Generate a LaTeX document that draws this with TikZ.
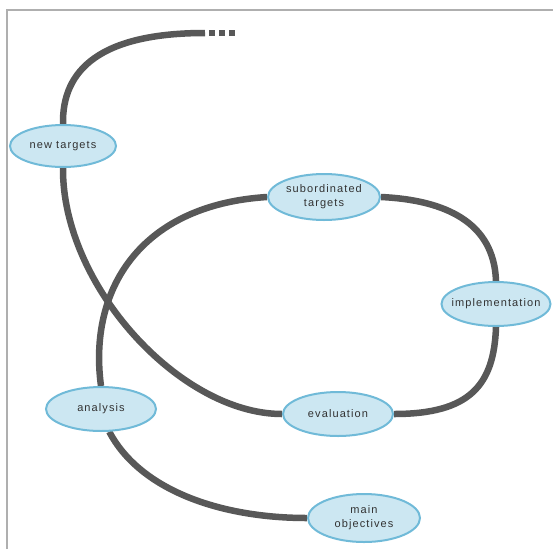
\documentclass[tikz,border=0pt]{standalone}
\usepackage{fontspec}
\setmainfont{Liberation Sans}[LetterSpace=10]
\usetikzlibrary{shapes.geometric,backgrounds}
\definecolor{linegray}{RGB}{88,88,88}
\definecolor{bubblefill}{RGB}{204,231,242}
\definecolor{bubbleedge}{RGB}{112,186,216}
\definecolor{framegray}{RGB}{175,175,175}
\definecolor{txtgray}{RGB}{50,50,50}
\newcommand{\ctline}[1]{\makebox[50pt][c]{#1}}
\tikzset{
  bubble/.style={ellipse, draw=bubbleedge, fill=bubblefill, line width=2pt,
    minimum width=110pt, minimum height=44pt, inner sep=0pt, align=center,
    text=txtgray, font=\fontsize{11}{14}\selectfont},
  band/.style={draw=linegray, line width=6.5pt},
  frameline/.style={draw=framegray, line width=1.5pt}
}
\begin{document}
\begin{tikzpicture}[x=1pt,y=-1pt]
\useasboundingbox (0,0) rectangle (553,549);
\draw[frameline] (7,549) -- (7,10) -- (553,10);
\node[bubble, minimum width=106pt, minimum height=42pt] (nt) at (63,146) {\ctline{new targets}};
\node[bubble, minimum width=112pt, minimum height=46pt] (sub) at (324,197) {\ctline{subordinated}\\\ctline{targets}};
\node[bubble, minimum width=109pt] (im) at (496,304) {\ctline{implementation}};
\node[bubble] (ev) at (338,414) {\ctline{evaluation}};
\node[bubble] (an) at (101,409) {\ctline{analysis}};
\node[bubble, minimum width=112pt, minimum height=48pt] (mo) at (364,518) {\ctline{main}\\\ctline{objectives}};
\coordinate (tail) at (205,33);
\coordinate (dotsstart) at (209,33);
\coordinate (dotsend) at (235,33);
\begin{scope}[on background layer]
\draw[band] (tail) .. controls (100,33) and (62,70) .. (nt.north);
\draw[band, line width=6pt, dash pattern=on 6pt off 4pt] (dotsstart) -- (dotsend);
\draw[band] (nt.south) .. controls (62,285) and (180,414) .. (ev.west);
\draw[band] (ev.east) .. controls (470,414) and (494,385) .. (im.south);
\draw[band] (im.north) .. controls (494,222) and (445,200) .. (sub.east);
\draw[band] (sub.west) .. controls (140,205) and (88,290) .. (an.north);
\draw[band] (an.-70) .. controls (140,490) and (220,518) .. (mo.west);
\end{scope}
\end{tikzpicture}
\end{document}
